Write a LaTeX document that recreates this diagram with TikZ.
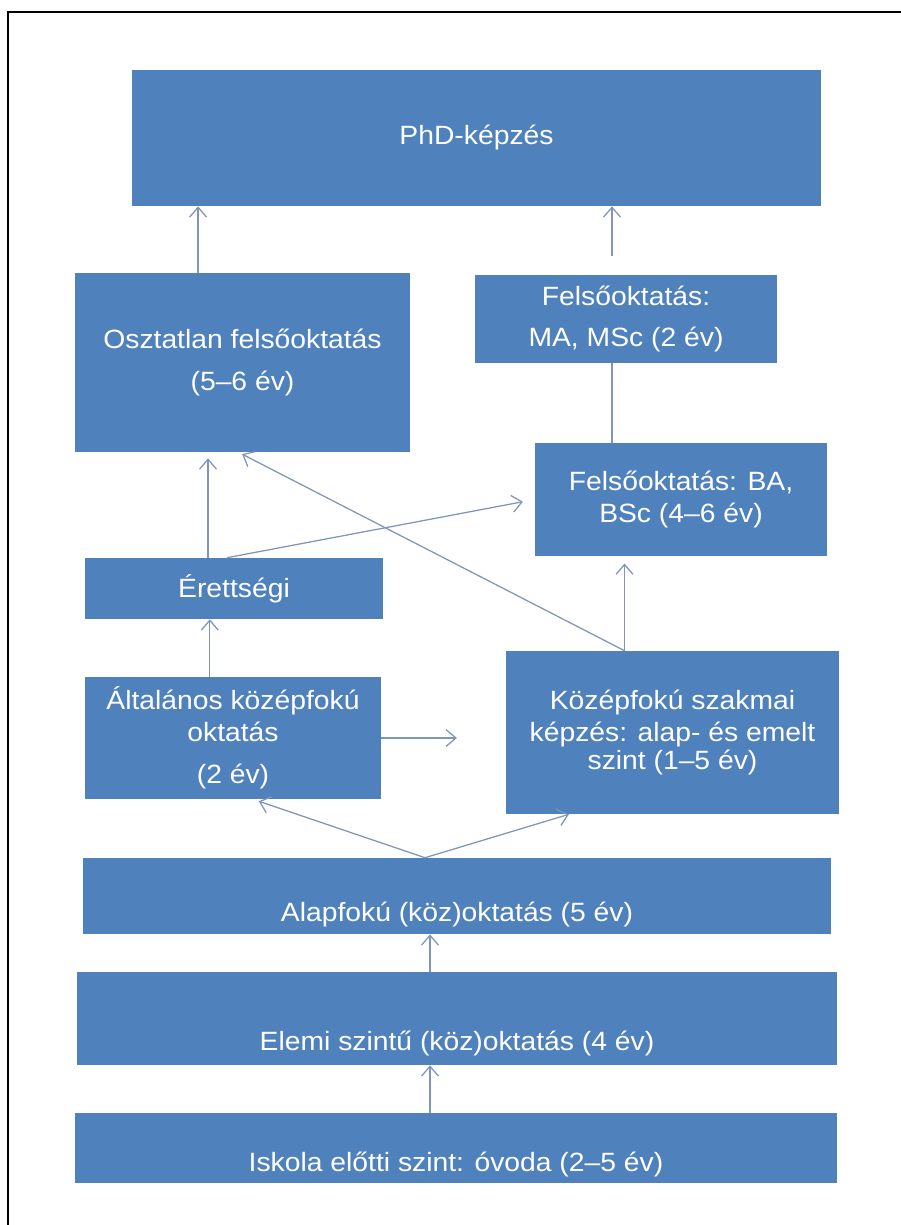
\documentclass[tikz,border=0pt]{standalone}
\usepackage{fontspec}
\setmainfont{Liberation Sans}[FakeStretch=1.07]
\usepackage{tikz}
\usetikzlibrary{arrows.meta}
\definecolor{boxc}{HTML}{4F81BD}
\definecolor{linkc}{HTML}{7F95B9}

\begin{document}
\begin{tikzpicture}[x=.025cm,y=-.025cm,font=\fontsize{18.8}{22.8}\selectfont,>={Straight Barb[length=7pt,width=12pt]},box/.style={fill=boxc,text=white,align=center,inner sep=2pt},low/.style={text height=#1,text depth=4pt},arr/.style={->,line width=.9pt,draw=linkc},link/.style={line width=.9pt,draw=linkc}]
\useasboundingbox (0,0) rectangle (901,1225);
\draw[line width=1.4pt] (8,1230) -- (8,12) -- (906,12);
\node[box,minimum width=17.225cm,minimum height=3.4cm] (phd) at (476.5,138) {PhD-képzés};
\node[box,minimum width=8.375cm,minimum height=4.475cm] (undiv) at (242.5,362.5) {Osztatlan felsőoktatás\\[7pt](5–6 év)};
\node[box,minimum width=7.55cm,minimum height=2.2cm] (ma) at (626,319) {Felsőoktatás:\\[7pt]MA, MSc (2 év)};
\node[box,minimum width=7.3cm,minimum height=2.825cm] (ba) at (681,499.5) {Felsőoktatás: BA,\\BSc (4–6 év)};
\node[box,minimum width=7.45cm,minimum height=1.525cm] (eretts) at (234,588.5) {Érettségi};
\node[box,minimum width=7.4cm,minimum height=3.05cm] (altal) at (233,738) {Általános középfokú\\oktatás\\[7pt](2 év)};
\node[box,minimum width=8.325cm,minimum height=4.075cm] (szakm) at (672.5,732.5) {Középfokú szakmai\\képzés: alap- és emelt\\[-3.5pt]szint (1–5 év)};
\node[box,low=39.6pt,minimum width=18.7cm,minimum height=1.9cm] (alap) at (457,896) {Alapfokú (köz)oktatás (5 év)};
\node[box,low=48.8pt,minimum width=18.975cm,minimum height=2.325cm] (elemi) at (457,1018.5) {Elemi szintű (köz)oktatás (4 év)};
\node[box,low=37.8pt,minimum width=19.05cm,minimum height=1.75cm] (ovoda) at (456,1148) {Iskola előtti szint: óvoda (2–5 év)};
\draw[arr] ([xshift=-1.11cm]undiv.north) -- ([xshift=-1.11cm]undiv.north |- phd.south);
\draw[arr,shorten <=.475cm] ([xshift=-.35cm]ma.north) -- ([xshift=-.35cm]ma.north |- phd.south);
\draw[link] ([xshift=-.35cm]ma.south) -- ([xshift=-.35cm]ma.south |- ba.north);
\draw[arr,shorten >=.15cm] ([xshift=-.65cm]eretts.north) -- ([xshift=-.65cm]eretts.north |- undiv.south);
\draw[arr,shorten >=.3cm] ([xshift=-.175cm]eretts.north) -- (ba.west);
\draw[arr,shorten >=.1cm] ([xshift=-1.2cm]szakm.north) -- ([xshift=-.1cm]undiv.south);
\draw[arr,shorten >=.18cm] ([xshift=-1.2cm]szakm.north) -- ([xshift=-1.2cm]szakm.north |- ba.south);
\draw[arr,shorten >=1.22cm] (altal.east) -- (altal.east -| szakm.west);
\draw[arr] ([xshift=-.58cm]altal.north) -- ([xshift=-.58cm]altal.north |- eretts.south);
\coordinate (fork) at ([xshift=-.8cm]alap.north);
\draw[arr,shorten >=.15cm] (fork) -- ([xshift=.5cm]altal.south);
\draw[arr] (fork) -- ([xshift=-2.59cm]szakm.south);
\draw[arr] ([xshift=-.675cm]elemi.north) -- ([xshift=-.675cm]elemi.north |- alap.south);
\draw[arr] ([xshift=-.65cm]ovoda.north) -- ([xshift=-.65cm]ovoda.north |- elemi.south);
\end{tikzpicture}
\end{document}
